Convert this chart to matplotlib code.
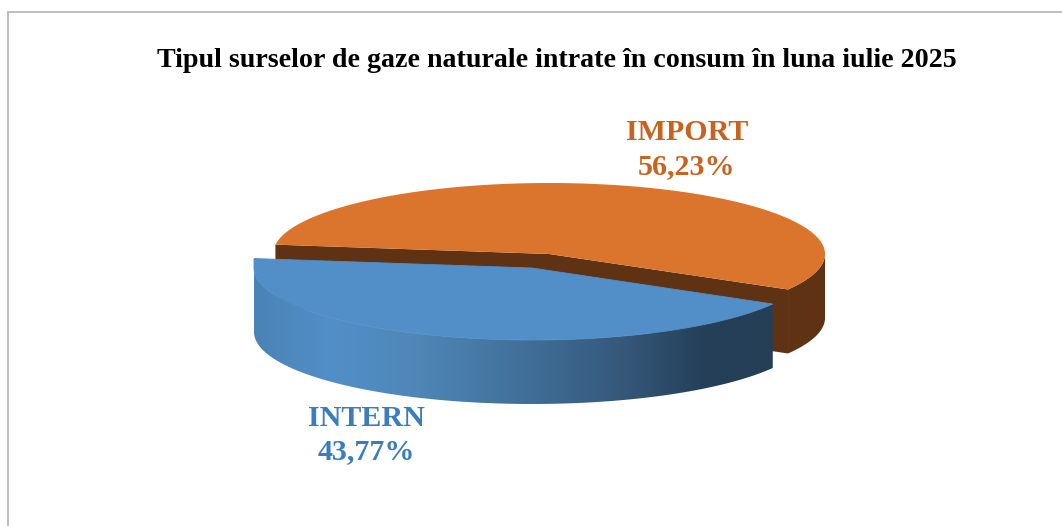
import numpy as np
import matplotlib
matplotlib.use("Agg")
import matplotlib.pyplot as plt
from matplotlib.colors import LinearSegmentedColormap
from matplotlib.patches import Polygon

title = "Tipul surselor de gaze naturale intrate în consum în luna iulie 2025"
categories = ["INTERN", "IMPORT"]
shares = [43.77, 56.23]

START_DEG = 30.0      # where the first slice starts, clockwise on screen from 3 o'clock
DEPTH = 64
TOP_COL = {"INTERN": "#528FC8", "IMPORT": "#DB752D"}
LABEL_COL = {"INTERN": "#3A7DBE", "IMPORT": "#C8621F"}
WALL_ORANGE = "#5F3213"
GEOM = {"INTERN": (532, 268, 278, 72), "IMPORT": (549, 254, 276, 71)}
LABEL_POS = {"INTERN": (366, 418), "IMPORT": (687, 133)}

plt.rcParams["font.family"] = ["Liberation Serif", "DejaVu Serif"]
fig = plt.figure(figsize=(10.62, 5.26), dpi=100, facecolor="white")
ax = fig.add_axes([0, 0, 1, 1])
ax.set_axis_off()


def arc(geom, a0, a1, n=240, clamp=False):
    cx, cy, rx, ry = geom
    deg = np.linspace(a0, a1, n)
    t = np.radians(deg)
    x = cx + rx * np.cos(t)
    if clamp:  # the side stays vertical once the rim turns to the back
        x = np.where(deg > 180, cx - rx, x)
    return np.column_stack([x, cy + ry * np.sin(t)])


spans = np.array(shares) / sum(shares) * 360
b0, b1 = START_DEG, START_DEG + spans[0]
o0, o1 = b1, b1 + spans[1]

# frame
ax.plot([8, 8, 1062], [526, 12, 12], color="#BFBFBF", lw=1.5, solid_joinstyle="miter")

# IMPORT slice: walls, then top face
g = GEOM["IMPORT"]
cx, cy = g[0], g[1]
start_pt = arc(g, o0, o0, 1)[0]
end_pt = arc(g, o1, o1, 1)[0]
cut = np.array([start_pt, (cx, cy), end_pt])
ax.fill(np.r_[cut[:, 0], cut[::-1, 0]], np.r_[cut[:, 1], cut[::-1, 1] + DEPTH],
        color=WALL_ORANGE, lw=0, zorder=2)
outer = arc(g, 0, START_DEG)
ax.fill(np.r_[outer[:, 0], outer[::-1, 0]], np.r_[outer[:, 1], outer[::-1, 1] + DEPTH],
        color=WALL_ORANGE, lw=0, zorder=2)
top = np.vstack([[(cx, cy)], arc(g, o0, o1)])
ax.fill(top[:, 0], top[:, 1], color=TOP_COL["IMPORT"], lw=0, zorder=3)

# INTERN slice: gradient wall, then top face
g = GEOM["INTERN"]
cx, cy = g[0], g[1]
wall_arc = arc(g, b0, b1, clamp=True)
wall_xy = np.column_stack([np.r_[wall_arc[:, 0], wall_arc[::-1, 0]],
                           np.r_[wall_arc[:, 1], wall_arc[::-1, 1] + DEPTH]])
left_x, right_x = wall_xy[:, 0].min(), wall_xy[:, 0].max()
stops = [(0.0, "#4A83B6"), (0.15, "#528FC8"), (0.32, "#4E86B6"), (0.55, "#3F6C95"),
         (0.72, "#355779"), (0.87, "#243F58"), (1.0, "#243F56")]
cmap = LinearSegmentedColormap.from_list("wall", stops)
im = ax.imshow(np.linspace(0, 1, 512)[None, :], cmap=cmap, aspect="auto",
               extent=(left_x, right_x, 420, 250), zorder=4)
clip = Polygon(wall_xy, closed=True, transform=ax.transData, fc="none", ec="none")
ax.add_patch(clip)
im.set_clip_path(clip)
top = np.vstack([[(cx, cy)], arc(g, b0, b1, clamp=True)])
ax.fill(top[:, 0], top[:, 1], fc=TOP_COL["INTERN"], ec=TOP_COL["INTERN"], lw=0.6, zorder=5)

ax.set_xlim(0, 1062)
ax.set_ylim(526, 0)

ax.text(557, 60.5, title, ha="center", va="center", fontsize=20.2, fontweight="bold",
        color="black", zorder=6)
for cat, val in zip(categories, shares):
    x, y = LABEL_POS[cat]
    ax.text(x, y, cat, ha="center", va="center", fontsize=21.6, fontweight="bold",
            color=LABEL_COL[cat], zorder=6)
    ax.text(x, y + 34, f"{val:.2f}%".replace(".", ","), ha="center", va="center",
            fontsize=21.6, fontweight="bold", color=LABEL_COL[cat], zorder=6)

fig.savefig("out.png", dpi=100)
